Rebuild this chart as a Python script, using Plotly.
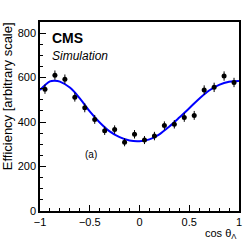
import plotly.graph_objects as go

# Data points (bin centres, efficiency, errors)
cos_bins = [-0.95, -0.85, -0.75, -0.65, -0.55, -0.45, -0.35, -0.25, -0.15, -0.05,
            0.05, 0.15, 0.25, 0.35, 0.45, 0.55, 0.65, 0.75, 0.85, 0.95]
efficiency = [548, 611, 593, 512, 464, 412, 361, 366, 309, 345,
              319, 337, 384, 390, 421, 430, 544, 556, 607, 578]
eff_err = [21, 21, 21, 20, 20, 20, 19, 19, 18, 19,
           18, 19, 19, 19, 20, 20, 21, 21, 21, 21]

# Fit curve
fit_x = [-1.0, -0.9, -0.85, -0.8, -0.7, -0.6, -0.5, -0.4, -0.3, -0.2, -0.1,
         0.0, 0.1, 0.2, 0.3, 0.4, 0.5, 0.6, 0.7, 0.8, 0.9, 1.0]
fit_y = [544, 583, 586, 582, 555, 507, 448, 398, 358, 332, 317,
         314, 322, 345, 380, 420, 462, 505, 542, 567, 581, 585]

x_ticks = [-1, -0.5, 0, 0.5, 1]
x_tick_labels = ["\u22121", "\u22120.5", "0", "0.5", "1"]
y_ticks = [0, 200, 400, 600, 800]

fig = go.Figure()
fig.add_trace(go.Scatter(x=fit_x, y=fit_y, mode="lines",
                         line=dict(color="#0000ff", width=2, shape="spline", smoothing=1.0),
                         hoverinfo="skip", showlegend=False))
fig.add_trace(go.Scatter(x=cos_bins, y=efficiency, mode="markers",
                         marker=dict(color="black", size=5),
                         error_y=dict(type="data", array=eff_err, color="black",
                                      thickness=1, width=0),
                         showlegend=False))

font = "Liberation Sans, Arial, Helvetica, sans-serif"
fig.update_layout(
    width=249, height=242,
    margin=dict(l=40, r=7, t=22, b=31),
    paper_bgcolor="white", plot_bgcolor="white",
    font=dict(family=font, size=11, color="black"),
    xaxis=dict(range=[-1, 1], tickvals=x_ticks, ticktext=x_tick_labels,
               ticks="inside", ticklen=6, tickwidth=1, tickcolor="black",
               minor=dict(dtick=0.1, ticklen=3, ticks="inside", tickcolor="black", tickwidth=1),
               showline=True, linecolor="black", linewidth=1.5, mirror=True,
               showgrid=False, zeroline=False, tickfont=dict(size=11)),
    yaxis=dict(range=[0, 850], tickvals=y_ticks,
               ticks="inside", ticklen=6, tickwidth=1, tickcolor="black",
               minor=dict(dtick=50, ticklen=3, ticks="inside", tickcolor="black", tickwidth=1),
               showline=True, linecolor="black", linewidth=1.5, mirror=True,
               showgrid=False, zeroline=False, tickfont=dict(size=11)),
    annotations=[
        dict(text="<b>CMS</b>", xref="paper", yref="paper", x=0.05, y=0.915,
             xanchor="left", yanchor="middle", showarrow=False, font=dict(size=14)),
        dict(text="<i>Simulation</i>", xref="paper", yref="paper", x=0.05, y=0.82,
             xanchor="left", yanchor="middle", showarrow=False, font=dict(size=12)),
        dict(text="(a)", xref="x", yref="y", x=-0.49, y=252,
             xanchor="center", yanchor="middle", showarrow=False, font=dict(size=10)),
        dict(text="Efficiency [arbitrary scale]", xref="paper", yref="paper",
             x=-0.165, y=1.01, xanchor="center", yanchor="top", textangle=-90,
             showarrow=False, font=dict(size=13)),
        dict(text="cos \u03b8<sub>\u039b</sub>", xref="paper", yref="paper",
             x=1.0, y=-0.075, xanchor="right", yanchor="top",
             showarrow=False, font=dict(size=11)),
    ],
)
fig.write_html("out.html", config={"displayModeBar": False},
               post_script="document.body.style.margin='0';document.body.style.overflow='hidden';")
